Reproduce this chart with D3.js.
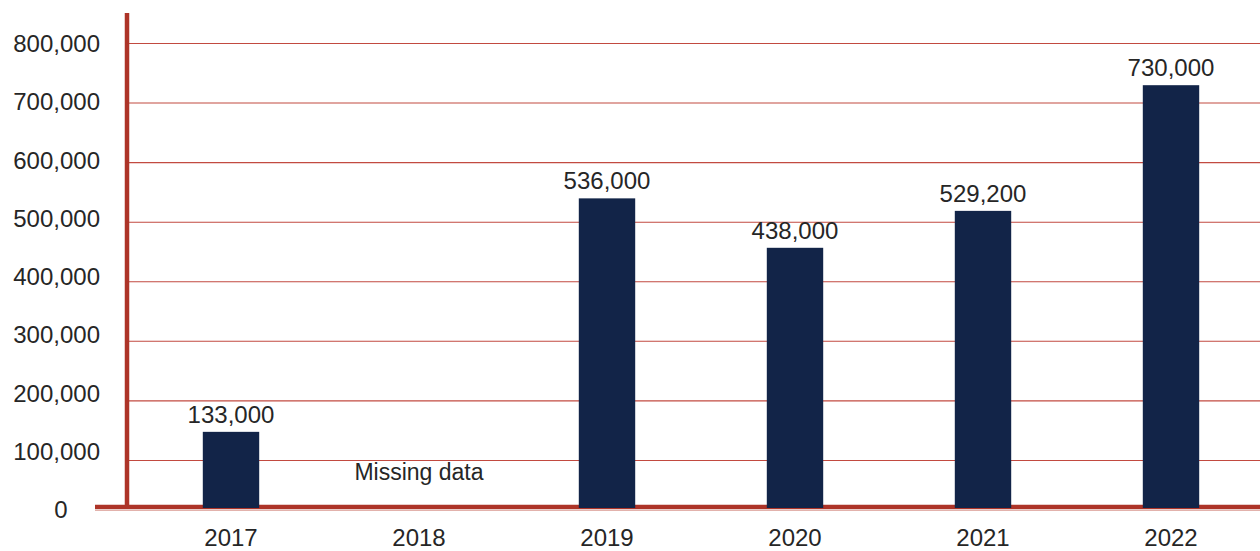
<!DOCTYPE html>
<html><head><meta charset="utf-8">
<script src="https://cdn.jsdelivr.net/npm/d3@7"></script>
<style>
html,body{margin:0;padding:0;background:#fff;}
svg{display:block;font-family:"Liberation Sans",Arial,sans-serif;}
</style></head>
<body><svg id="c" width="1260" height="551"></svg>
<script>
const categories = ["2017","2018","2019","2020","2021","2022"];
const barValues = [148000, null, 540000, 457000, 519000, 730000];
const dataLabels = ["133,000", "Missing data", "536,000", "438,000", "529,200", "730,000"];
const yTicks = [0,100000,200000,300000,400000,500000,600000,700000,800000];

const svg = d3.select("#c");
const W = 1260;
const axisY = 507;
const red = "#ad3428";
const textCol = "#262626";
const barCol = "#122448";

const x = d3.scaleBand().domain(categories).range([137, 1265]).paddingInner(0.70).paddingOuter(0.35);
const y = d3.scaleLinear().domain([0, 800000]).range([520, 43.5]);
const yLab = d3.scaleLinear().domain([0, 800000]).range([510, 43.5]);
const fmt = d3.format(",");

// gridlines
svg.append("g").selectAll("line").data(yTicks.filter(d => d > 0)).join("line")
  .attr("x1", 129).attr("x2", W)
  .attr("y1", d => y(d)).attr("y2", d => y(d))
  .attr("stroke", "#c24a40").attr("stroke-width", 1.1);

// tick labels
svg.append("g").selectAll("text").data(yTicks).join("text")
  .attr("x", d => d === 0 ? 61 : 100).attr("y", d => yLab(d))
  .attr("dy", "0.35em").attr("text-anchor", d => d === 0 ? "middle" : "end")
  .attr("font-size", 24).attr("fill", textCol)
  .text(d => fmt(d));

// axes lines
svg.append("line").attr("x1", 127).attr("x2", 127).attr("y1", 13).attr("y2", axisY)
  .attr("stroke", red).attr("stroke-width", 4.5);
svg.append("line").attr("x1", 95).attr("x2", W).attr("y1", axisY).attr("y2", axisY)
  .attr("stroke", red).attr("stroke-width", 4.5);
svg.append("line").attr("x1", 95).attr("x2", W).attr("y1", 510.5).attr("y2", 510.5)
  .attr("stroke", "#e2b2ac").attr("stroke-width", 1);

const data = categories.map((c, i) => ({c, v: barValues[i], label: dataLabels[i]}));

// bars
svg.append("g").selectAll("rect").data(data.filter(d => d.v != null)).join("rect")
  .attr("x", d => x(d.c)).attr("width", x.bandwidth())
  .attr("y", d => y(d.v)).attr("height", d => 508 - y(d.v))
  .attr("fill", barCol);

// data labels
svg.append("g").selectAll("text").data(data).join("text")
  .attr("x", d => x(d.c) + x.bandwidth() / 2)
  .attr("y", d => d.v != null ? y(d.v) - 9 : 480)
  .attr("text-anchor", "middle")
  .attr("font-size", d => d.v != null ? 24 : 23).attr("fill", textCol)
  .text(d => d.label);

// x labels
svg.append("g").selectAll("text").data(categories).join("text")
  .attr("x", d => x(d) + x.bandwidth() / 2).attr("y", 546)
  .attr("text-anchor", "middle").attr("font-size", 24).attr("fill", textCol)
  .text(d => d);
</script></body></html>
